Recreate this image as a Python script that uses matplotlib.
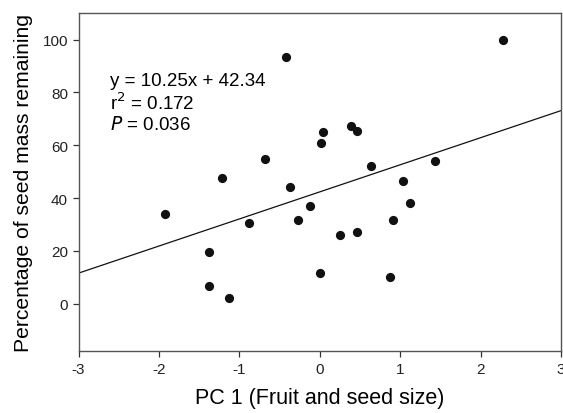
import numpy as np
import matplotlib.pyplot as plt

plt.rcParams['font.family'] = ['Liberation Sans', 'DejaVu Sans']
plt.rcParams['axes.unicode_minus'] = False

# PC1 scores and seed mass remaining (%)
pc1 = [-0.416, -0.677, -1.215, -0.366, 0.01, 2.276, 0.043, 0.39, 0.457, 0.636,
       1.037, 1.427, -1.923, -0.884, -0.276, -0.127, -1.373, -1.373, -1.133, 0.0,
       1.128, 0.905, 0.255, 0.466, 0.867]
seed_mass = [93.4, 54.8, 47.5, 44.1, 60.9, 99.7, 65.1, 67.2, 65.2, 52.3,
             46.6, 54.0, 33.9, 30.4, 31.6, 36.9, 19.4, 6.9, 2.1, 11.7,
             38.1, 31.6, 26.0, 27.0, 10.1]

slope = 10.25
intercept = 42.34
xticks = [-3, -2, -1, 0, 1, 2, 3]
yticks = [0, 20, 40, 60, 80, 100]

fig = plt.figure(figsize=(5.63, 4.14), dpi=100)
ax = fig.add_axes([0.1395, 0.149, 0.857, 0.817])

ax.scatter(pc1, seed_mass, s=44, color='#111111', zorder=3, linewidths=0)
xl = np.array([-3, 3])
ax.plot(xl, slope * xl + intercept, color='#111111', lw=0.9)

ax.set_xlim(-3, 3)
ax.set_ylim(-18, 110)
ax.set_xticks(xticks)
ax.set_yticks(yticks)
ax.tick_params(direction='out', length=4.5, width=0.9, pad=3, labelsize=11,
               colors='#333333', labelcolor='#222222', top=False, right=False)
for s in ax.spines.values():
    s.set_color('#555555')
    s.set_linewidth(1.0)

ax.set_xlabel('PC 1 (Fruit and seed size)', fontsize=15.5, labelpad=8)
ax.set_ylabel('Percentage of seed mass remaining', fontsize=15.2, labelpad=7)

ax.text(0.066, 0.80, 'y = 10.25x + 42.34', transform=ax.transAxes,
        fontsize=13.5, va='center')
ax.text(0.066, 0.735, 'r$^2$ = 0.172', transform=ax.transAxes,
        fontsize=13.5, va='center')
ax.text(0.066, 0.672, '$P$ = 0.036', transform=ax.transAxes,
        fontsize=13.5, va='center')

fig.savefig('out.png', dpi=100)
